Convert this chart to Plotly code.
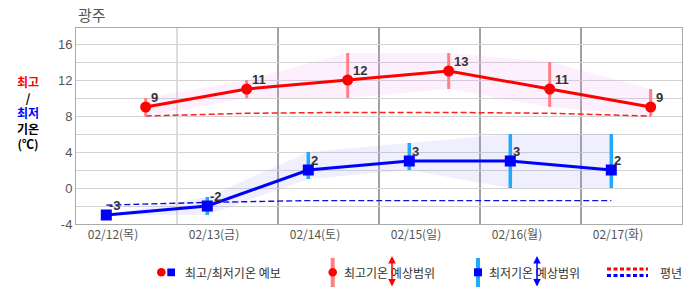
import plotly.graph_objects as go

# ---- data ----
days = ['02/12(목)', '02/13(금)', '02/14(토)', '02/15(일)', '02/16(월)', '02/17(화)']
hi = [9, 11, 12, 13, 11, 9]
hi_min = [8, 10, 10, 11, 9, 8]
hi_max = [10, 12, 15, 15, 14, 11]
lo = [-3, -2, 2, 3, 3, 2]
lo_min = [-3, -3, 1, 2, 0, 0]
lo_max = [-3, -1, 4, 5, 6, 6]
hi_norm = [8.0, 8.3, 8.4, 8.4, 8.3, 8.0]
lo_norm = [-1.9, -1.6, -1.4, -1.4, -1.4, -1.4]

# ---- layout geometry ----
W, H = 686, 295
ML, MR, MT, MB = 76, 4, 28, 71
PW, PH = W - ML - MR, H - MT - MB
LO_OFF, HI_OFF, LBL_OFF = 0.30, 0.69, 0.366
x_hi = [i + HI_OFF for i in range(len(days))]
x_lo = [i + LO_OFF for i in range(len(days))]

def px(xp):
    return (xp - ML) / PW

def py(yp):
    return (MT + PH - yp) / PH

KF = "Noto Sans CJK KR"
NF = "Liberation Sans, Arial, Noto Sans CJK KR"

fig = go.Figure()

# bands
fig.add_trace(go.Scatter(x=x_hi + x_hi[::-1], y=hi_max + hi_min[::-1], fill='toself',
                         fillcolor='rgba(240,150,240,0.15)', line=dict(width=0),
                         mode='lines', hoverinfo='skip', showlegend=False))
fig.add_trace(go.Scatter(x=x_lo + x_lo[::-1], y=lo_max + lo_min[::-1], fill='toself',
                         fillcolor='rgba(150,150,240,0.15)', line=dict(width=0),
                         mode='lines', hoverinfo='skip', showlegend=False))

# normals
fig.add_trace(go.Scatter(x=x_hi, y=hi_norm, mode='lines',
                         line=dict(color='#FF2020', width=1.5, dash='6px,3px'), showlegend=False))
fig.add_trace(go.Scatter(x=x_lo, y=lo_norm, mode='lines',
                         line=dict(color='#1010DD', width=1.4, dash='6px,3px'), showlegend=False))

# range bars
fig.add_trace(go.Scatter(x=x_hi, y=hi, mode='markers', marker=dict(opacity=0),
                         error_y=dict(type='data', symmetric=False,
                                      array=[a - b for a, b in zip(hi_max, hi)],
                                      arrayminus=[b - a for a, b in zip(hi_min, hi)],
                                      thickness=3, width=0, color='#FF8080'),
                         showlegend=False))
fig.add_trace(go.Scatter(x=x_lo, y=lo, mode='markers', marker=dict(opacity=0),
                         error_y=dict(type='data', symmetric=False,
                                      array=[a - b for a, b in zip(lo_max, lo)],
                                      arrayminus=[b - a for a, b in zip(lo_min, lo)],
                                      thickness=3.5, width=0, color='#1EAAFF'),
                         showlegend=False))

# main lines
fig.add_trace(go.Scatter(x=x_hi, y=hi, mode='lines+markers',
                         line=dict(color='#FF0000', width=3),
                         marker=dict(symbol='circle', size=11, color='#FF0000'), showlegend=False))
fig.add_trace(go.Scatter(x=x_lo, y=lo, mode='lines+markers',
                         line=dict(color='#0000FF', width=3),
                         marker=dict(symbol='square', size=11, color='#0000FF'), showlegend=False))

annotations = []
for xv, yv in zip(x_hi, hi):
    annotations.append(dict(x=xv, y=yv, xref='x', yref='y', text=str(yv), showarrow=False,
                            xanchor='left', yanchor='middle', xshift=3, yshift=10,
                            font=dict(family=NF, size=13, color='#333', weight='bold')))
for xv, yv in zip(x_lo, lo):
    annotations.append(dict(x=xv, y=yv, xref='x', yref='y', text=str(yv), showarrow=False,
                            xanchor='left', yanchor='middle', xshift=1, yshift=10,
                            font=dict(family=NF, size=13, color='#333', weight='bold')))

# title
annotations.append(dict(x=px(76), y=py(15), xref='paper', yref='paper', text='광주',
                        showarrow=False, xanchor='left', yanchor='middle',
                        font=dict(family=KF, size=15, color='#555')))
# y-axis side label (single multi-line text)
side_txt = ('<span style="color:#FF0000">최고</span><br>/<br>'
            '<span style="color:#0000FF">최저</span><br>기온<br>(℃)')
annotations.append(dict(x=px(28), y=py(112), xref='paper', yref='paper', text=side_txt,
                        showarrow=False, xanchor='center', yanchor='middle', align='center',
                        borderpad=0,
                        font=dict(family=KF, size=12, color='#000', weight='bold')))

# legend texts
LY = 272
for t, xx in [('최고/최저기온 예보', 183), ('최고기온 예상범위', 342),
              ('최저기온 예상범위', 487), ('평년', 658)]:
    annotations.append(dict(x=px(xx), y=py(LY), xref='paper', yref='paper', text=t,
                            showarrow=False, xanchor='left', yanchor='middle',
                            font=dict(family=KF, size=12, color='#333')))
# legend arrows
for xx, c in [(392, '#FF0000'), (537, '#0000FF')]:
    annotations.append(dict(x=px(xx), y=py(256), xref='paper', yref='paper', text='',
                            showarrow=True, ax=0, ay=32, arrowside='end+start',
                            arrowhead=2, arrowsize=1, arrowwidth=1.5, arrowcolor=c,
                            standoff=0, startstandoff=0))

shapes = []
# vertical day boundaries
for b in range(1, len(days)):
    shapes.append(dict(type='line', xref='x', yref='paper', x0=b, x1=b, y0=0, y1=1,
                       line=dict(color='#BBBBBB' if b == 1 else '#444444', width=1),
                       layer='below'))
# legend shapes
def circle(cx, cy, r, color):
    return dict(type='circle', xref='paper', yref='paper', x0=px(cx - r), x1=px(cx + r),
                y0=py(cy + r), y1=py(cy - r), fillcolor=color, line=dict(width=0))

def rect(x0, y0, x1, y1, color):
    return dict(type='rect', xref='paper', yref='paper', x0=px(x0), x1=px(x1),
                y0=py(y1), y1=py(y0), fillcolor=color, line=dict(width=0))

shapes.append(circle(161.3, 272.3, 4.3, '#FF0000'))
shapes.append(rect(167.3, 268.5, 175, 276.2, '#0000FF'))
shapes.append(rect(330.7, 258, 334.7, 287, '#FF8080'))
shapes.append(circle(332.7, 272.3, 4.3, '#FF0000'))
shapes.append(rect(476, 258, 480, 287, '#1EAAFF'))
shapes.append(rect(474, 268.3, 482, 276.3, '#0000FF'))
shapes.append(dict(type='line', xref='paper', yref='paper', x0=px(607), x1=px(648),
                   y0=py(269), y1=py(269), line=dict(color='#FF0000', width=3, dash='4px,2.5px')))
shapes.append(dict(type='line', xref='paper', yref='paper', x0=px(607), x1=px(648),
                   y0=py(275.5), y1=py(275.5), line=dict(color='#0000FF', width=3, dash='4px,2.5px')))

ytv = list(range(-4, 18, 2))
fig.update_layout(
    width=W, height=H, margin=dict(l=ML, r=MR, t=MT, b=MB, pad=0),
    paper_bgcolor='white', plot_bgcolor='white',
    font=dict(family=KF, size=12, color='#555'),
    showlegend=False,
    xaxis=dict(range=[0, len(days)], tickvals=[i + LBL_OFF for i in range(len(days))],
               ticktext=days, showgrid=False, zeroline=False, showline=True,
               linecolor='#AAAAAA', linewidth=1, mirror=True, ticks='',
               tickfont=dict(family=KF, size=12, color='#555'), fixedrange=True),
    yaxis=dict(range=[-4, -4 + PH / 9], tickvals=ytv,
               ticktext=[str(v) if v % 4 == 0 else '' for v in ytv],
               showgrid=True, gridcolor='#D3D3D3', gridwidth=1, zeroline=False,
               showline=True, linecolor='#AAAAAA', linewidth=1, mirror=True, ticks='',
               tickfont=dict(family=NF, size=13, color='#555'), fixedrange=True),
    annotations=annotations, shapes=shapes,
)

fig.write_html("out.html")
